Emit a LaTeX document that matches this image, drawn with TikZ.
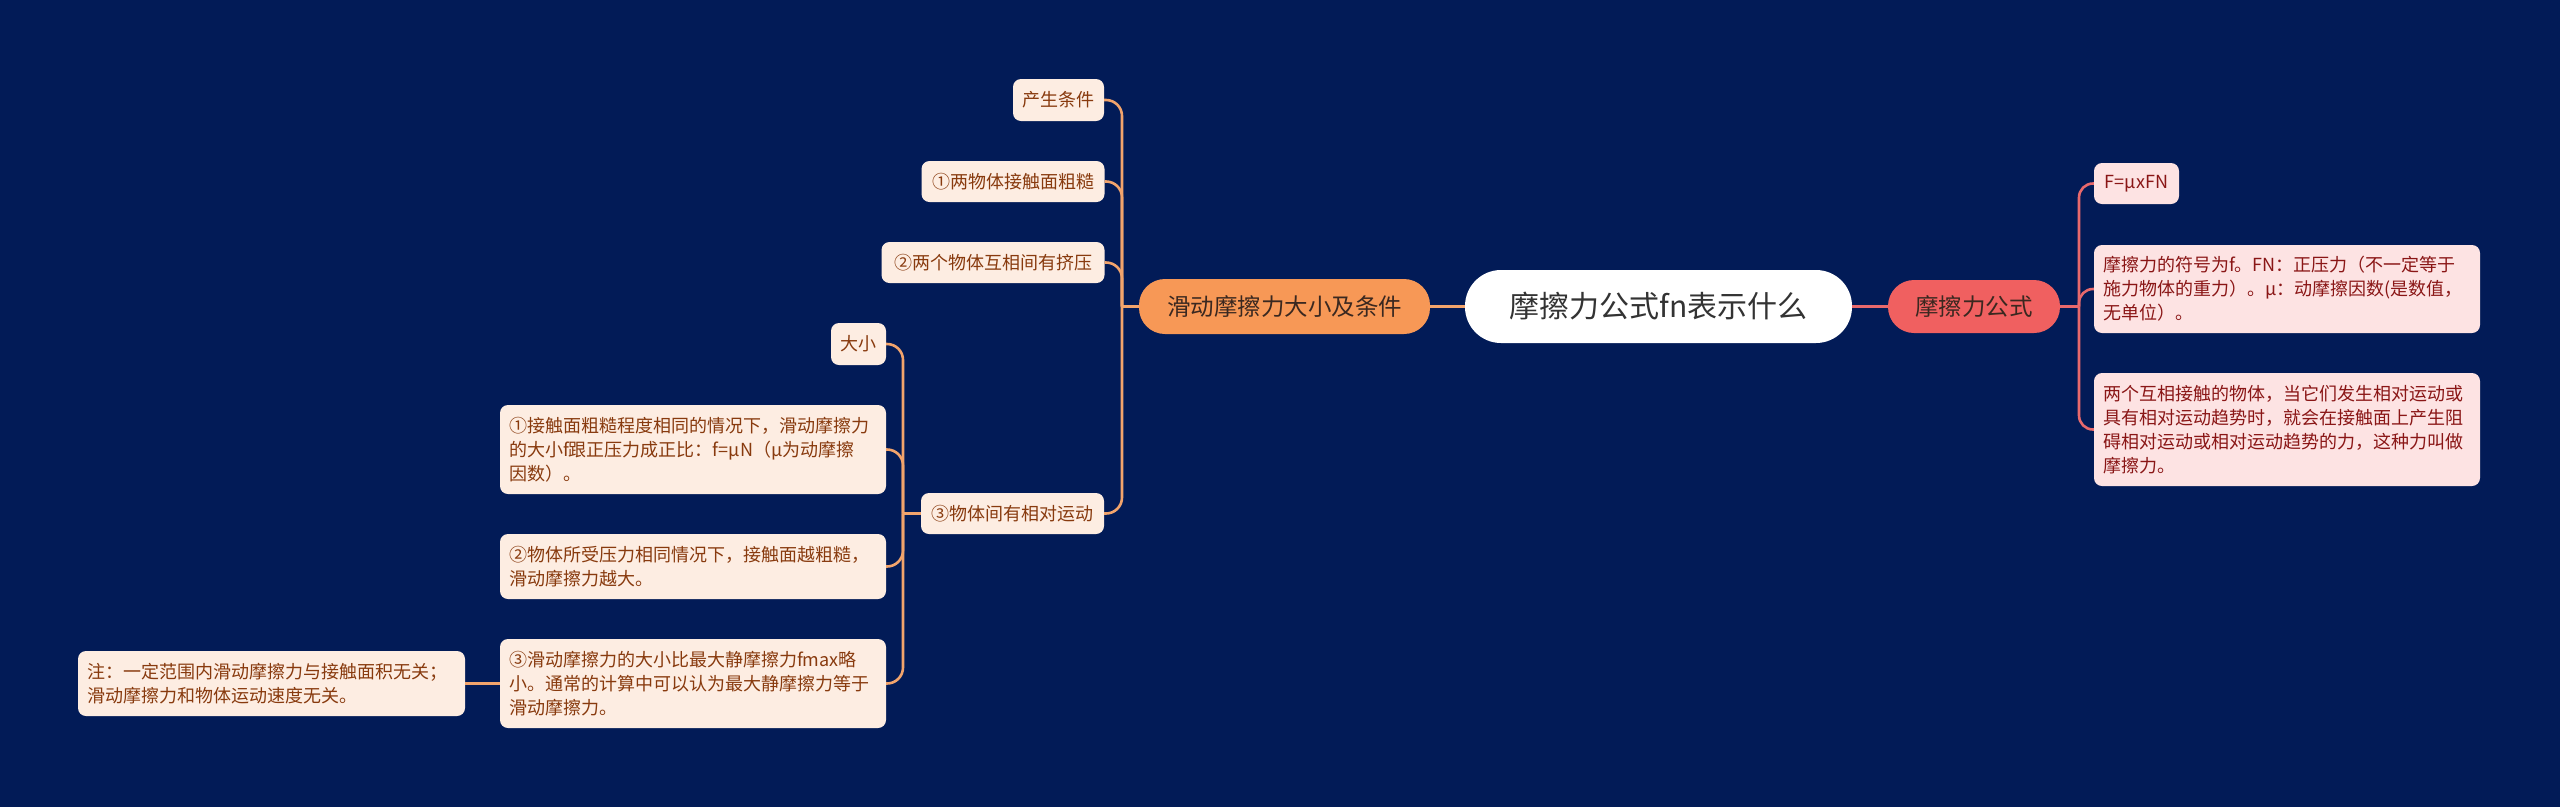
\documentclass[tikz,border=0pt]{standalone}
\usepackage{fontspec}
\setmainfont{Noto Sans CJK SC}
\definecolor{bg}{HTML}{021B57}
\definecolor{cOr}{HTML}{F79856}
\definecolor{cRd}{HTML}{F06060}
\definecolor{lnOr}{HTML}{F2A46C}
\definecolor{lnRd}{HTML}{E8696C}
\definecolor{lfill}{HTML}{FDEDE2}
\definecolor{rfill}{HTML}{FDE3E3}
\definecolor{ltext}{HTML}{883A0E}
\definecolor{rtext}{HTML}{8A1616}
\definecolor{ctext}{HTML}{333333}
\definecolor{btext}{HTML}{3A2820}
\begin{document}
\begin{tikzpicture}[x=1pt,y=-1pt,
  box/.style={rounded corners=8pt, inner xsep=9pt, inner ysep=4pt, align=left, font=\fontsize{18}{24}\selectfont},
  lleaf/.style={box, fill=lfill, text=ltext},
  rleaf/.style={box, fill=rfill, text=rtext},
  pillbr/.style={rounded corners=26pt, inner sep=0pt, font=\fontsize{23.5}{28}\selectfont, text=btext},
  orline/.style={draw=lnOr, line width=2.6pt},
  rdline/.style={draw=lnRd, line width=2.6pt},
  orcurve/.style={orline, rounded corners=16pt},
  rdcurve/.style={rdline, rounded corners=14pt}
]
\fill[bg] (0,0) rectangle (2560,807);
\useasboundingbox (0,0) rectangle (2560,807);

% central and branches
\node[rounded corners=36pt, fill=white, text=ctext, inner sep=0pt, minimum width=387pt, minimum height=73pt, font=\fontsize{30}{36}\selectfont] (C) at (1658.5,306.5) {摩擦力公式fn表示什么};
\node[pillbr, fill=cOr, minimum width=291pt, minimum height=55pt] (B1) at (1284.5,306.5) {滑动摩擦力大小及条件};
\node[pillbr, fill=cRd, minimum width=172pt, minimum height=53pt] (B2) at (1974,306.5) {摩擦力公式};

% right leaves
\node[rleaf, minimum width=85pt, minimum height=41pt] (R1) at (2136.5,183.5) {F=μxFN};
\node[rleaf, text width=368pt, minimum height=88pt] (R2) at (2287,289) {摩擦力的符号为f。FN：正压力（不一定等于\\施力物体的重力）。μ：动摩擦因数(是数值，\\无单位）。};
\node[rleaf, text width=368pt, minimum height=113pt] (R3) at (2287,429.5) {两个互相接触的物体，当它们发生相对运动或\\具有相对运动趋势时，就会在接触面上产生阻\\碍相对运动或相对运动趋势的力，这种力叫做\\摩擦力。};

% left leaves
\node[lleaf, minimum width=91pt, minimum height=42pt] (L1) at (1058.5,100) {产生条件};
\node[lleaf, minimum width=183pt, minimum height=41pt] (L2) at (1013,181.5) {①两物体接触面粗糙};
\node[lleaf, minimum width=223pt, minimum height=41pt] (L3) at (993,262.5) {②两个物体互相间有挤压};
\node[lleaf, minimum width=183pt, minimum height=41pt] (L4) at (1012.5,513.5) {③物体间有相对运动};

\node[lleaf, minimum width=55pt, minimum height=42pt] (S1) at (858.5,344) {大小};
\node[lleaf, text width=368pt, minimum height=89pt] (S2) at (693,449.5) {①接触面粗糙程度相同的情况下，滑动摩擦力\\的大小f跟正压力成正比：f=μN（μ为动摩擦\\因数）。};
\node[lleaf, text width=368pt, minimum height=65pt] (S3) at (693,566.5) {②物体所受压力相同情况下，接触面越粗糙，\\滑动摩擦力越大。};
\node[lleaf, text width=368pt, minimum height=89pt] (S4) at (693,683.5) {③滑动摩擦力的大小比最大静摩擦力fmax略\\小。通常的计算中可以认为最大静摩擦力等于\\滑动摩擦力。};
\node[lleaf, text width=369pt, minimum height=65pt] (N) at (271.5,683.5) {注：一定范围内滑动摩擦力与接触面积无关；\\滑动摩擦力和物体运动速度无关。};

% spine coordinates
\coordinate (jR) at (2079,306.5);
\coordinate (jL) at (1122,306.5);
\coordinate (jS) at (903,513.5);

% connectors
\draw[orline] (C.west) -- (B1.east);
\draw[rdline] (C.east) -- (B2.west);

\draw[rdline] (B2.east) -- (jR);
\foreach \n in {R1,R2,R3} \draw[rdcurve] (jR) |- (\n.west);

\draw[orline] (B1.west) -- (jL);
\foreach \n in {L1,L2,L3,L4} \draw[orcurve] (jL) |- (\n.east);

\draw[orline] (L4.west) -- (jS);
\foreach \n in {S1,S2,S3,S4} \draw[orcurve] (jS) |- (\n.east);

\draw[orline] (S4.west) -- (N.east);
\end{tikzpicture}
\end{document}
